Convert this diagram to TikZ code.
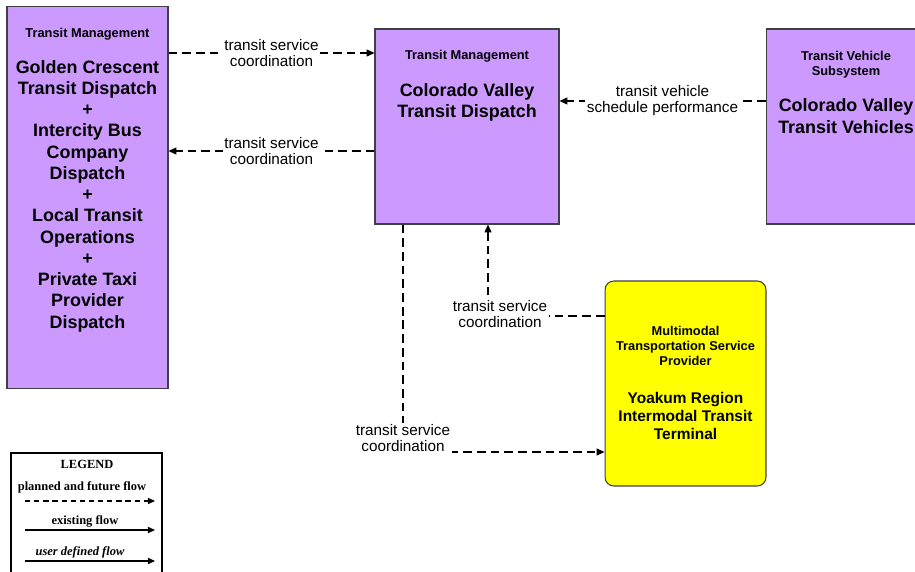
\documentclass[tikz,border=0pt]{standalone}
\usepackage{fontspec}
\setmainfont{Liberation Sans}
\newfontfamily\legendfont{Liberation Serif}
\usetikzlibrary{arrows.meta, positioning}
\definecolor{subsys}{RGB}{204,153,255}
\definecolor{termyellow}{RGB}{255,255,0}

\begin{document}
\begin{tikzpicture}[x=0.02cm, y=-0.02cm, node distance=0.4cm,
    box/.style={draw=black!75, line width=0.6pt, rectangle, fill=subsys, inner sep=0pt},
    hdr/.style={font=\fontsize{7.3}{8.5}\selectfont\bfseries, align=center, inner sep=0pt},
    title/.style={font=\fontsize{10.2}{12.1}\selectfont\bfseries, align=center, inner sep=0pt},
    lbl/.style={font=\fontsize{8.7}{9.1}\selectfont, align=center, fill=white, inner sep=1pt},
    flow/.style={line width=0.6pt, dash pattern=on 5pt off 2.8pt, -{Triangle[length=4.5pt, width=4pt]}},
    legtxt/.style={font=\legendfont\fontsize{7.1}{8}\selectfont\bfseries, inner sep=0pt},
    legflow/.style={line width=0.6pt, -{Triangle[length=4pt, width=3.5pt]}}]

  \useasboundingbox (0,0) rectangle (915,571);
  \clip (0,0) rectangle (915,571);

  \node[box, minimum width=3.22cm, minimum height=7.66cm] (gct) at (87.5,197.5) {};
  \node[hdr, below=0.45cm of gct.north] (gcthdr) {Transit Management};
  \node[title, below=0.38cm of gcthdr] (gcttitle) {Golden Crescent\\Transit Dispatch\\+\\Intercity Bus\\Company\\Dispatch\\+\\Local Transit\\Operations\\+\\Private Taxi\\Provider\\Dispatch};

  \node[box, minimum width=3.68cm, minimum height=3.9cm] (cvtd) at (467,126.5) {};
  \node[hdr, below=0.43cm of cvtd.north] (cvtdhdr) {Transit Management};
  \node[title, below=0.4cm of cvtdhdr] (cvtdtitle) {Colorado Valley\\Transit Dispatch};

  \node[box, minimum width=3.2cm, minimum height=3.9cm] (cvtv) at (846,126.5) {};
  \node[hdr, below=0.45cm of cvtv.north] (cvtvhdr) {Transit Vehicle\\Subsystem};
  \node[title, below=0.4cm of cvtvhdr] (cvtvtitle) {Colorado Valley\\Transit Vehicles};

  \node[box, fill=termyellow, rounded corners=5pt, minimum width=3.22cm, minimum height=4.1cm] (yrtt) at (685.5,383.5) {};
  \node[hdr, below=0.91cm of yrtt.north] (yrtthdr) {Multimodal\\Transportation Service\\Provider};
  \node[title, font=\fontsize{8.8}{10.2}\selectfont\bfseries, below=0.52cm of yrtthdr] (yrtttitle) {Yoakum Region\\Intermodal Transit\\Terminal};

  \draw[flow] (gct.east |- 0,53) -- node[lbl] {transit service\\coordination} (cvtd.west |- 0,53);
  \draw[flow] (cvtd.west |- 0,151) -- node[lbl] {transit service\\coordination} (gct.east |- 0,151);
  \draw[flow] (cvtv.west |- 0,101) -- node[lbl] {transit vehicle\\schedule performance} (cvtd.east |- 0,101);
  \draw[flow] (yrtt.west |- 0,316) -| node[lbl, pos=0.5, xshift=0.24cm, yshift=0.03cm] {transit service\\coordination} (cvtd.south -| 488,0);
  \draw[flow] (cvtd.south -| 403,0) |- node[lbl, pos=0.5, yshift=0.28cm] {transit service\\coordination} (yrtt.west |- 0,452);

  \draw[line width=1.1pt] (11,600) -- (11,453) -- (162,453) -- (162,600);
  \node[legtxt] (legend) at (87,464) {LEGEND};
  \node[legtxt] (planned) at (82,487) {planned and future flow};
  \coordinate (planneda) at (25,501);
  \coordinate (plannedb) at (155,501);
  \draw[legflow, dash pattern=on 3pt off 2.2pt] (planneda) -- (plannedb);
  \node[legtxt] (existing) at (85,521) {existing flow};
  \coordinate (existinga) at (25,530);
  \coordinate (existingb) at (155,530);
  \draw[legflow] (existinga) -- (existingb);
  \node[legtxt, font=\legendfont\fontsize{7.1}{8}\selectfont\bfseries\itshape] (userdef) at (80,552) {user defined flow};
  \coordinate (userdefa) at (25,561);
  \coordinate (userdefb) at (155,561);
  \draw[legflow] (userdefa) -- (userdefb);
\end{tikzpicture}
\end{document}
